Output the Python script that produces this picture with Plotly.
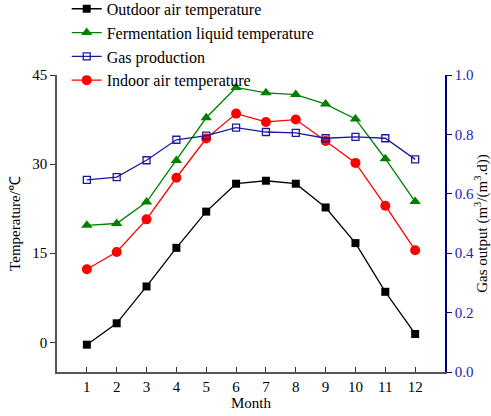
import plotly.graph_objects as go

months = list(range(1, 13))
month_labels = [str(m) for m in months]
outdoor = [-0.4, 3.2, 9.4, 15.9, 22.0, 26.7, 27.2, 26.7, 22.7, 16.7, 8.5, 1.4]
fermentation = [19.7, 20.0, 23.6, 30.6, 37.8, 42.9, 42.0, 41.7, 40.1, 37.6, 30.9, 23.7]
gas = [0.647, 0.656, 0.713, 0.782, 0.796, 0.823, 0.808, 0.805, 0.787, 0.792, 0.787, 0.716]
indoor = [12.3, 15.2, 20.7, 27.7, 34.3, 38.5, 37.1, 37.5, 33.9, 30.2, 23.0, 15.5]

FONT = "Liberation Serif"
BLUE = "#1a1aa0"

fig = go.Figure()
fig.add_trace(go.Scatter(x=months, y=outdoor, name="Outdoor air temperature", mode="lines+markers",
                         line=dict(color="black", width=1.3),
                         marker=dict(symbol="square", size=8, color="black")))
fig.add_trace(go.Scatter(x=months, y=fermentation, name="Fermentation liquid temperature", mode="lines+markers",
                         line=dict(color="#008000", width=1.3),
                         marker=dict(symbol="triangle-up", size=10, color="#008000")))
fig.add_trace(go.Scatter(x=months, y=gas, name="Gas production", mode="lines+markers", yaxis="y2",
                         line=dict(color=BLUE, width=1.3),
                         marker=dict(symbol="square-open", size=7, color=BLUE, line=dict(width=1.3))))
fig.add_trace(go.Scatter(x=months, y=indoor, name="Indoor air temperature", mode="lines+markers",
                         line=dict(color="#ff0000", width=1.3),
                         marker=dict(symbol="circle", size=10, color="#ff0000")))

fig.update_layout(
    width=491, height=416,
    margin=dict(l=57, r=46, t=75, b=44, autoexpand=False),
    paper_bgcolor="white", plot_bgcolor="white",
    font=dict(family=FONT, size=14, color="black"),
    showlegend=True,
    legend=dict(x=0.025, y=1.28, xanchor="left", yanchor="top", bgcolor="rgba(0,0,0,0)",
                font=dict(family=FONT, size=16), tracegroupgap=0),
    xaxis=dict(range=[0, 13], tickmode="array", tickvals=months, ticktext=month_labels,
               ticks="inside", ticklen=5, tickcolor="#333", showline=True, linecolor="#555",
               linewidth=1.5, showgrid=False, zeroline=False, automargin=False,
               title=dict(text="Month", standoff=2, font=dict(size=15)),
               tickfont=dict(size=15)),
    yaxis=dict(range=[-5, 45], tickvals=[0, 15, 30, 45], ticks="outside", ticklen=5,
               tickcolor="#333", showline=True, linecolor="#555", linewidth=1.5, automargin=False,
               showgrid=False, zeroline=False, tickfont=dict(size=15),
               title=dict(text="Temperature/℃", standoff=8, font=dict(size=15))),
    yaxis2=dict(range=[0, 1.0], tickvals=[0, 0.2, 0.4, 0.6, 0.8, 1.0], ticktext=["0.0", "0.2", "0.4", "0.6", "0.8", "1.0"],
                overlaying="y", side="right", ticks="outside", ticklen=5, tickcolor="#00008B",
                showline=True, linecolor="#00008B", linewidth=1.5, showgrid=False, zeroline=False,
                automargin=False, tickfont=dict(size=15, color="#2222bb"),
                title=dict(text="Gas output (m<sup>3</sup>/(m<sup>3</sup>.d))", standoff=4,
                           font=dict(size=15, color="black"))),
)

fig.write_html("out.html")
